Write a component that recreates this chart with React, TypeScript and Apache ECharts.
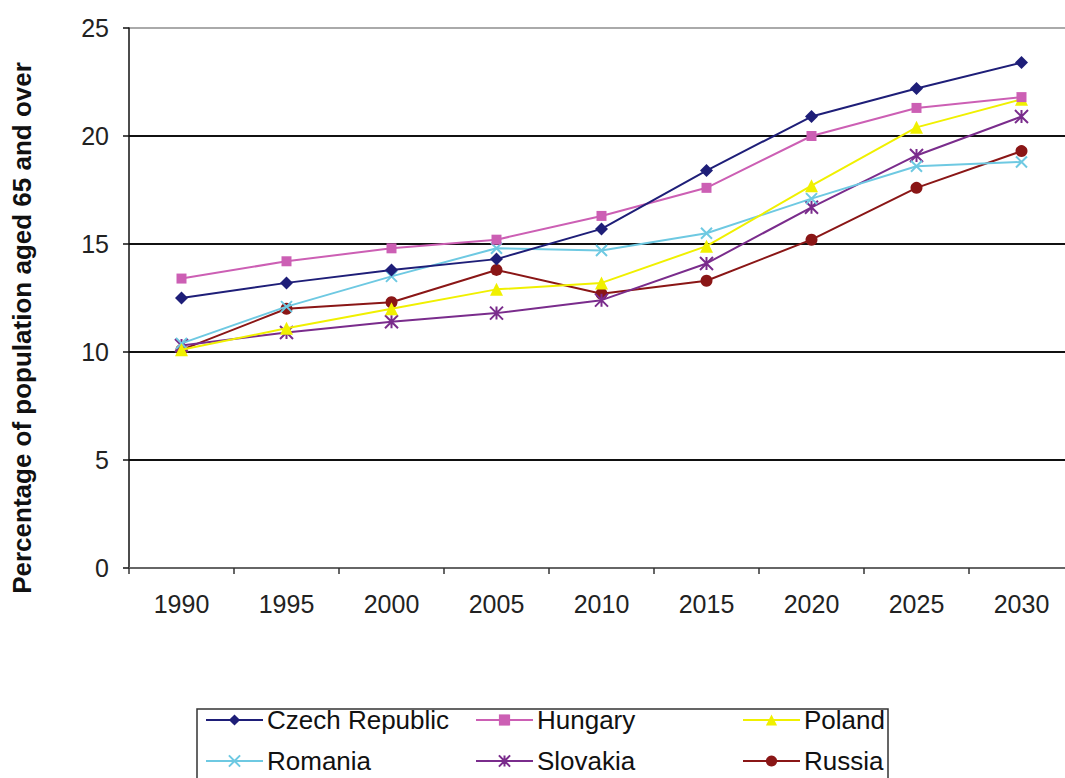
import React, { useEffect, useRef } from "react";
import * as echarts from "echarts";

const years = ["1990", "1995", "2000", "2005", "2010", "2015", "2020", "2025", "2030"];
const yTicks = [0, 5, 10, 15, 20, 25];

const czech = [12.5, 13.2, 13.8, 14.3, 15.7, 18.4, 20.9, 22.2, 23.4];
const hungary = [13.4, 14.2, 14.8, 15.2, 16.3, 17.6, 20.0, 21.3, 21.8];
const poland = [10.1, 11.1, 12.0, 12.9, 13.2, 14.9, 17.7, 20.4, 21.7];
const romania = [10.4, 12.1, 13.5, 14.8, 14.7, 15.5, 17.1, 18.6, 18.8];
const slovakia = [10.3, 10.9, 11.4, 11.8, 12.4, 14.1, 16.7, 19.1, 20.9];
const russia = [10.1, 12.0, 12.3, 13.8, 12.7, 13.3, 15.2, 17.6, 19.3];

const names = ["Czech Republic", "Hungary", "Poland", "Romania", "Slovakia", "Russia"];
const colors = ["#1e1e78", "#cc5fb4", "#f0f000", "#6ec9e2", "#7a2c8c", "#8a1616"];

const FONT = "Liberation Sans, Arial, sans-serif";

const X_SYM = "path://M0,0L10,10M10,0L0,10";
const AST_SYM = "path://M0,0L10,10M10,0L0,10M5,0L5,10";

export default function App() {
  const ref = useRef<HTMLDivElement>(null);
  useEffect(() => {
    if (!ref.current) return;
    const chart = echarts.init(ref.current, null, { renderer: "svg" });
    const datasets = [czech, hungary, poland, romania, slovakia, russia];
    const symbols = ["diamond", "rect", "triangle", X_SYM, AST_SYM, "circle"];
    const sizes = [13, 10, 13, 11, 13, 12];
    const series = names.map((n, i) => {
      const stroked = i === 3 || i === 4;
      return {
        name: n,
        type: "line",
        data: datasets[i],
        symbol: symbols[i],
        symbolSize: sizes[i],
        showAllSymbol: true,
        lineStyle: { color: colors[i], width: 2 },
        itemStyle: stroked
          ? { color: "rgba(0,0,0,0)", borderColor: colors[i], borderWidth: 2 }
          : { color: colors[i], borderColor: colors[i], borderWidth: 0 },
        emphasis: { disabled: true },
        z: 10 - i,
      };
    });
    const legendPos = [
      { left: 205, top: 707 },
      { left: 475, top: 707 },
      { left: 742, top: 707 },
      { left: 205, top: 748 },
      { left: 475, top: 748 },
      { left: 742, top: 748 },
    ];
    const legends = names.map((n, i) => ({
      data: [n],
      left: legendPos[i].left,
      top: legendPos[i].top,
      padding: 0,
      itemWidth: 57,
      itemHeight: 14,
      itemGap: 0,
      selectedMode: false,
      textStyle: { fontSize: 26, color: "#111", fontFamily: FONT, padding: [0, 0, 0, -1] },
    }));
    chart.setOption({
      animation: false,
      backgroundColor: "#ffffff",
      textStyle: { fontFamily: FONT },
      grid: { left: 129, top: 28, width: 945, height: 540, containLabel: false },
      legend: legends,
      graphic: [
        {
          type: "rect",
          shape: { x: 197, y: 709, width: 691, height: 90 },
          style: { fill: "none", stroke: "#333", lineWidth: 1.5 },
          z: 0,
        },
        {
          type: "text",
          x: 22,
          y: 328,
          rotation: Math.PI / 2,
          style: {
            text: "Percentage of population aged 65 and over",
            font: "bold 26px " + FONT,
            fill: "#111",
            align: "center",
            verticalAlign: "middle",
          },
        },
      ],
      xAxis: {
        type: "category",
        data: years,
        boundaryGap: true,
        axisLine: { show: true, lineStyle: { color: "#666", width: 2 } },
        axisTick: { show: true, length: 6, lineStyle: { color: "#333", width: 1.5 } },
        axisLabel: { fontSize: 25, color: "#222", margin: 23, fontFamily: FONT },
      },
      yAxis: {
        type: "value",
        min: yTicks[0],
        max: yTicks[yTicks.length - 1],
        interval: 5,
        axisLine: { show: true, lineStyle: { color: "#111", width: 1.5 } },
        axisTick: { show: true, length: 6, lineStyle: { color: "#111", width: 1.5 } },
        axisLabel: { fontSize: 25, color: "#222", margin: 20, fontFamily: FONT },
        splitLine: {
          show: true,
          lineStyle: { color: ["#666", "#111", "#111", "#111", "#111", "#aaa"], width: 2 },
        },
      },
      series,
    });
    return () => chart.dispose();
  }, []);
  return (
    <div
      style={{
        position: "fixed",
        left: 0,
        top: 0,
        width: 1065,
        height: 778,
        overflow: "hidden",
        background: "#fff",
      }}
    >
      <div ref={ref} style={{ width: 1085, height: 778 }} />
    </div>
  );
}
